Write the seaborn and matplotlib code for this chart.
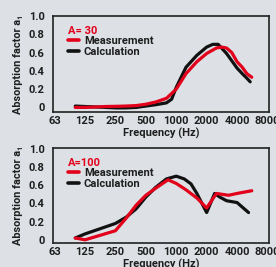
import matplotlib
matplotlib.use("Agg")
import matplotlib.pyplot as plt
import seaborn as sns
import pandas as pd
from matplotlib.lines import Line2D

# ---- data ----
freq_ticks = [63, 125, 250, 500, 1000, 2000, 4000, 8000]
y_ticks = [0, 0.2, 0.4, 0.6, 0.8, 1.0]
y_ticklabels = ["0", "0.2", "0.4", "0.6", "0.8", "1.0"]

a30_meas_f = [100, 125, 160, 200, 250, 315, 400, 500, 630, 800, 1000, 1250, 1600,
              2000, 2500, 2800, 3150, 3550, 4000, 4500, 5000, 5600]
a30_meas_v = [0.0, 0.0, 0.005, 0.01, 0.012, 0.015, 0.02, 0.035, 0.06, 0.1, 0.2, 0.37,
              0.50, 0.59, 0.65, 0.66, 0.65, 0.6, 0.5, 0.44, 0.37, 0.33]
a30_calc_f = [100, 125, 160, 200, 250, 315, 400, 500, 630, 800, 900, 1000, 1250, 1600,
              2000, 2300, 2600, 3150, 3550, 4000, 4500, 5000, 5400]
a30_calc_v = [0.015, 0.01, 0.005, 0.0, -0.005, -0.005, 0.0, 0.015, 0.03, 0.05, 0.09,
              0.22, 0.44, 0.57, 0.66, 0.69, 0.69, 0.59, 0.51, 0.43, 0.37, 0.32, 0.28]

a100_meas_f = [100, 125, 250, 320, 400, 500, 630, 830, 1000, 1250, 1600, 2000, 2500,
               3300, 4000, 5600]
a100_meas_v = [0.02, 0.0, 0.10, 0.24, 0.38, 0.49, 0.57, 0.66, 0.62, 0.55, 0.46, 0.35,
               0.51, 0.49, 0.51, 0.54]
a100_calc_f = [100, 125, 250, 320, 400, 500, 630, 800, 1000, 1200, 1400, 1600, 2000,
               2400, 2700, 3150, 4000, 5200]
a100_calc_v = [0.02, 0.065, 0.18, 0.25, 0.34, 0.47, 0.58, 0.67, 0.70, 0.67, 0.615,
               0.51, 0.30, 0.51, 0.47, 0.43, 0.41, 0.30]

panels = [
    ("A= 30", a30_meas_f, a30_meas_v, a30_calc_f, a30_calc_v),
    ("A=100", a100_meas_f, a100_meas_v, a100_calc_f, a100_calc_v),
]

RED = "#e2001a"
BLACK = "#111111"
BG = "#dde1e6"
TXT = "#1e1e1e"
FS = 8
W = "semibold"

sns.set_theme(style="white")
plt.rcParams["font.family"] = ["Roboto", "DejaVu Sans"]

fig = plt.figure(figsize=(2.76, 2.67), dpi=100, facecolor=BG)
rects = [
    [53 / 276, (267 - 112) / 267, 216 / 276, 96 / 267],
    [53 / 276, (267 - 243) / 267, 216 / 276, 95 / 267],
]
ylims = [(-0.05, 1.0), (-0.035, 1.01)]

for rect, ylim, (title, mf, mv, cf, cv) in zip(rects, ylims, panels):
    ax = fig.add_axes(rect)
    ax.set_facecolor(BG)
    dm = pd.DataFrame({"f": mf, "v": mv})
    dc = pd.DataFrame({"f": cf, "v": cv})
    sns.lineplot(data=dc, x="f", y="v", ax=ax, color=BLACK, lw=2.3,
                 estimator=None, sort=False)
    sns.lineplot(data=dm, x="f", y="v", ax=ax, color=RED, lw=2.3,
                 estimator=None, sort=False)
    ax.set_xscale("log", base=2)
    ax.set_xlim(60.2, 8290)
    ax.set_ylim(*ylim)
    ax.set_xticks(freq_ticks)
    ax.set_xticklabels([str(t) for t in freq_ticks])
    ax.minorticks_off()
    ax.set_yticks(y_ticks)
    ax.set_yticklabels(y_ticklabels)
    ax.tick_params(axis="both", length=0, labelsize=FS, colors=TXT)
    ax.tick_params(axis="x", pad=3)
    ax.tick_params(axis="y", pad=6)
    for t in ax.get_xticklabels() + ax.get_yticklabels():
        t.set_fontweight(W)
    for s in ax.spines.values():
        s.set_color("#222222")
        s.set_linewidth(1.2)
    ax.set_xlabel("Frequency (Hz)", fontsize=FS, color=TXT, labelpad=1,
                  fontweight=W)
    ax.set_ylabel("Absorption factor a₁", fontsize=7.8, color=TXT,
                  labelpad=4, fontweight=W)
    handles = [Line2D([], [], color=RED, lw=2.6), Line2D([], [], color=BLACK, lw=2.6)]
    leg = ax.legend(handles, ["Measurement", "Calculation"], title=title,
                    loc="upper left", frameon=False,
                    prop={"size": FS, "weight": W},
                    handlelength=1.0, handletextpad=0.4, labelspacing=0.05,
                    borderaxespad=0.2, bbox_to_anchor=(0.04, 0.97),
                    alignment="left")
    for t in leg.get_texts():
        t.set_color(TXT)
    leg.get_title().set_color(RED)
    leg.get_title().set_fontweight("bold")
    leg.get_title().set_fontsize(FS)

fig.savefig("out.png", dpi=100, facecolor=BG)
